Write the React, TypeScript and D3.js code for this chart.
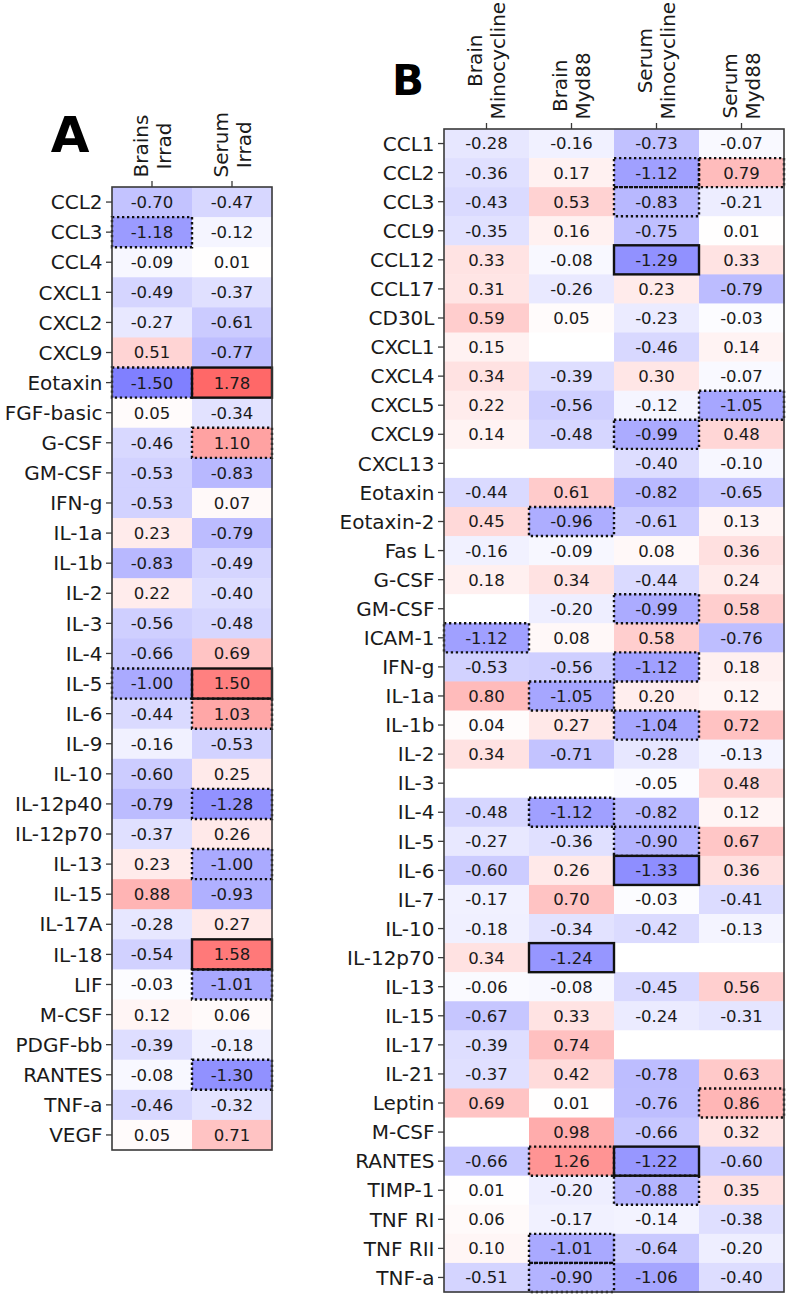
import React, { useEffect, useRef } from "react";
import * as d3 from "d3";

// ---------- Panel A data ----------
const rowsA = ["CCL2","CCL3","CCL4","CXCL1","CXCL2","CXCL9","Eotaxin","FGF-basic","G-CSF","GM-CSF","IFN-g","IL-1a","IL-1b","IL-2","IL-3","IL-4","IL-5","IL-6","IL-9","IL-10","IL-12p40","IL-12p70","IL-13","IL-15","IL-17A","IL-18","LIF","M-CSF","PDGF-bb","RANTES","TNF-a","VEGF"];
const colsA = [["Brains","Irrad"],["Serum","Irrad"]];
const brainsIrrad = [-0.70,-1.18,-0.09,-0.49,-0.27,0.51,-1.50,0.05,-0.46,-0.53,-0.53,0.23,-0.83,0.22,-0.56,-0.66,-1.00,-0.44,-0.16,-0.60,-0.79,-0.37,0.23,0.88,-0.28,-0.54,-0.03,0.12,-0.39,-0.08,-0.46,0.05];
const serumIrrad = [-0.47,-0.12,0.01,-0.37,-0.61,-0.77,1.78,-0.34,1.10,-0.83,0.07,-0.79,-0.49,-0.40,-0.48,0.69,1.50,1.03,-0.53,0.25,-1.28,0.26,-1.00,-0.93,0.27,1.58,-1.01,0.06,-0.18,-1.30,-0.32,0.71];
// significance: 0 none, 1 dotted, 2 solid
const sigBrainsIrrad = [0,1,0,0,0,0,1,0,0,0,0,0,0,0,0,0,1,0,0,0,0,0,0,0,0,0,0,0,0,0,0,0];
const sigSerumIrrad  = [0,0,0,0,0,0,2,0,1,0,0,0,0,0,0,0,2,1,0,0,1,0,1,0,0,2,1,0,0,1,0,0];

// ---------- Panel B data ----------
const rowsB = ["CCL1","CCL2","CCL3","CCL9","CCL12","CCL17","CD30L","CXCL1","CXCL4","CXCL5","CXCL9","CXCL13","Eotaxin","Eotaxin-2","Fas L","G-CSF","GM-CSF","ICAM-1","IFN-g","IL-1a","IL-1b","IL-2","IL-3","IL-4","IL-5","IL-6","IL-7","IL-10","IL-12p70","IL-13","IL-15","IL-17","IL-21","Leptin","M-CSF","RANTES","TIMP-1","TNF RI","TNF RII","TNF-a"];
const colsB = [["Brain","Minocycline"],["Brain","Myd88"],["Serum","Minocycline"],["Serum","Myd88"]];
const brainMino = [-0.28,-0.36,-0.43,-0.35,0.33,0.31,0.59,0.15,0.34,0.22,0.14,null,-0.44,0.45,-0.16,0.18,null,-1.12,-0.53,0.80,0.04,0.34,null,-0.48,-0.27,-0.60,-0.17,-0.18,0.34,-0.06,-0.67,-0.39,-0.37,0.69,null,-0.66,0.01,0.06,0.10,-0.51];
const brainMyd88 = [-0.16,0.17,0.53,0.16,-0.08,-0.26,0.05,null,-0.39,-0.56,-0.48,null,0.61,-0.96,-0.09,0.34,-0.20,0.08,-0.56,-1.05,0.27,-0.71,null,-1.12,-0.36,0.26,0.70,-0.34,-1.24,-0.08,0.33,0.74,0.42,0.01,0.98,1.26,-0.20,-0.17,-1.01,-0.90];
const serumMino = [-0.73,-1.12,-0.83,-0.75,-1.29,0.23,-0.23,-0.46,0.30,-0.12,-0.99,-0.40,-0.82,-0.61,0.08,-0.44,-0.99,0.58,-1.12,0.20,-1.04,-0.28,-0.05,-0.82,-0.90,-1.33,-0.03,-0.42,null,-0.45,-0.24,null,-0.78,-0.76,-0.66,-1.22,-0.88,-0.14,-0.64,-1.06];
const serumMyd88 = [-0.07,0.79,-0.21,0.01,0.33,-0.79,-0.03,0.14,-0.07,-1.05,0.48,-0.10,-0.65,0.13,0.36,0.24,0.58,-0.76,0.18,0.12,0.72,-0.13,0.48,0.12,0.67,0.36,-0.41,-0.13,null,0.56,-0.31,null,0.63,0.86,0.32,-0.60,0.35,-0.38,-0.20,-0.40];
const sigBrainMino  = [0,0,0,0,0,0,0,0,0,0,0,0,0,0,0,0,0,1,0,0,0,0,0,0,0,0,0,0,0,0,0,0,0,0,0,0,0,0,0,0];
const sigBrainMyd88 = [0,0,0,0,0,0,0,0,0,0,0,0,0,1,0,0,0,0,0,1,0,0,0,1,0,0,0,0,2,0,0,0,0,0,0,1,0,0,1,1];
const sigSerumMino  = [0,1,1,0,2,0,0,0,0,0,1,0,0,0,0,0,1,0,1,0,1,0,0,0,1,2,0,0,0,0,0,0,0,0,0,2,1,0,0,0];
const sigSerumMyd88 = [0,1,0,0,0,0,0,0,0,1,0,0,0,0,0,0,0,0,0,0,0,0,0,0,0,0,0,0,0,0,0,0,0,1,0,0,0,0,0,0];

const VMIN = -3, VMAX = 3;

function bwr(v: number | null): string {
  if (v === null || v === undefined) return "#ffffff";
  const t = Math.max(0, Math.min(1, (v - VMIN) / (VMAX - VMIN)));
  if (t < 0.5) {
    const c = Math.round(2 * t * 255);
    return d3.rgb(c, c, 255).formatHex();
  }
  const c = Math.round(2 * (1 - t) * 255);
  return d3.rgb(255, c, c).formatHex();
}

const FONT = "DejaVu Sans, sans-serif";

function drawPanel(
  svg: d3.Selection<SVGSVGElement, unknown, null, undefined>,
  opts: {
    rows: string[];
    cols: string[][];
    values: (number | null)[][];
    sig: number[][];
    x0: number; x1: number; y0: number; y1: number;
  }
) {
  const { rows, cols, values, sig, x0, x1, y0, y1 } = opts;
  const g = svg.append("g");
  const x = d3.scaleBand<number>().domain(d3.range(cols.length)).range([x0, x1]);
  const y = d3.scaleBand<string>().domain(rows).range([y0, y1]);

  const cells: { r: number; c: number; v: number | null; s: number }[] = [];
  rows.forEach((_, r) => cols.forEach((__, c) => cells.push({ r, c, v: values[c][r], s: sig[c][r] })));

  g.selectAll("rect.cell").data(cells).join("rect")
    .attr("class", "cell")
    .attr("x", d => x(d.c)!)
    .attr("y", d => y(rows[d.r])!)
    .attr("width", x.bandwidth() + 0.5)
    .attr("height", y.bandwidth() + 0.5)
    .attr("fill", d => bwr(d.v));

  g.selectAll("text.val").data(cells.filter(d => d.v !== null)).join("text")
    .attr("class", "val")
    .attr("x", d => x(d.c)! + x.bandwidth() / 2)
    .attr("y", d => y(rows[d.r])! + y.bandwidth() / 2)
    .attr("dy", "0.36em")
    .attr("text-anchor", "middle")
    .attr("font-family", FONT)
    .attr("font-size", 16.5)
    .attr("fill", "#1a1a1a")
    .text(d => (d.v as number).toFixed(2));

  // significance borders
  g.selectAll("rect.sig").data(cells.filter(d => d.s > 0)).join("rect")
    .attr("class", "sig")
    .attr("x", d => x(d.c)!)
    .attr("y", d => y(rows[d.r])!)
    .attr("width", x.bandwidth())
    .attr("height", y.bandwidth())
    .attr("fill", "none")
    .attr("stroke", "#111")
    .attr("stroke-width", d => (d.s === 2 ? 2.4 : 2.4))
    .attr("stroke-dasharray", d => (d.s === 1 ? "2.3,2.7" : null));

  // frame
  g.append("rect")
    .attr("x", x0).attr("y", y0)
    .attr("width", x1 - x0).attr("height", y1 - y0)
    .attr("fill", "none").attr("stroke", "#3a3a3a").attr("stroke-width", 1.6);

  // y ticks + labels
  const tickLen = 6;
  rows.forEach(r => {
    const cy = y(r)! + y.bandwidth() / 2;
    g.append("line").attr("x1", x0 - tickLen).attr("x2", x0).attr("y1", cy).attr("y2", cy)
      .attr("stroke", "#3a3a3a").attr("stroke-width", 1.3);
    g.append("text").attr("x", x0 - tickLen - 3.5).attr("y", cy).attr("dy", "0.36em")
      .attr("text-anchor", "end").attr("font-family", FONT).attr("font-size", 20)
      .attr("fill", "#1a1a1a").text(r);
  });

  // x ticks + rotated labels
  cols.forEach((lines, c) => {
    const cx = x(c)! + x.bandwidth() / 2;
    g.append("line").attr("x1", cx).attr("x2", cx).attr("y1", y0 - tickLen).attr("y2", y0)
      .attr("stroke", "#3a3a3a").attr("stroke-width", 1.3);
    const texts = lines.map(t => g.append("text")
      .attr("text-anchor", "middle").attr("font-family", FONT).attr("font-size", 20)
      .attr("fill", "#1a1a1a").attr("dy", "0.36em").text(t));
    const lens = texts.map(t => (t.node() as SVGTextElement).getComputedTextLength());
    const maxLen = Math.max(...lens);
    const centerY = y0 - tickLen - 3.5 - maxLen / 2;
    const spacing = 23;
    texts.forEach((t, i) => {
      const lx = cx + (i - (lines.length - 1) / 2) * spacing;
      t.attr("transform", `translate(${lx},${centerY}) rotate(-90)`);
    });
  });
}

export default function App() {
  const ref = useRef<SVGSVGElement | null>(null);
  useEffect(() => {
    const svg = d3.select(ref.current!);
    svg.selectAll("*").remove();
    svg.append("rect").attr("width", 786).attr("height", 1295).attr("fill", "#ffffff");

    drawPanel(svg, {
      rows: rowsA, cols: colsA,
      values: [brainsIrrad, serumIrrad],
      sig: [sigBrainsIrrad, sigSerumIrrad],
      x0: 112, x1: 272, y0: 187, y1: 1150,
    });
    drawPanel(svg, {
      rows: rowsB, cols: colsB,
      values: [brainMino, brainMyd88, serumMino, serumMyd88],
      sig: [sigBrainMino, sigBrainMyd88, sigSerumMino, sigSerumMyd88],
      x0: 444, x1: 784, y0: 129, y1: 1292,
    });

    svg.append("text").attr("x", 70).attr("y", 152).attr("text-anchor", "middle")
      .attr("font-family", FONT).attr("font-weight", "bold").attr("font-size", 50)
      .attr("fill", "#000").text("A");
    svg.append("text").attr("x", 408).attr("y", 95).attr("text-anchor", "middle")
      .attr("font-family", FONT).attr("font-weight", "bold").attr("font-size", 42)
      .attr("fill", "#000").text("B");
  }, []);

  return (
    <svg ref={ref} width={786} height={1295}
      style={{ position: "absolute", left: 0, top: 0, display: "block" }} />
  );
}
